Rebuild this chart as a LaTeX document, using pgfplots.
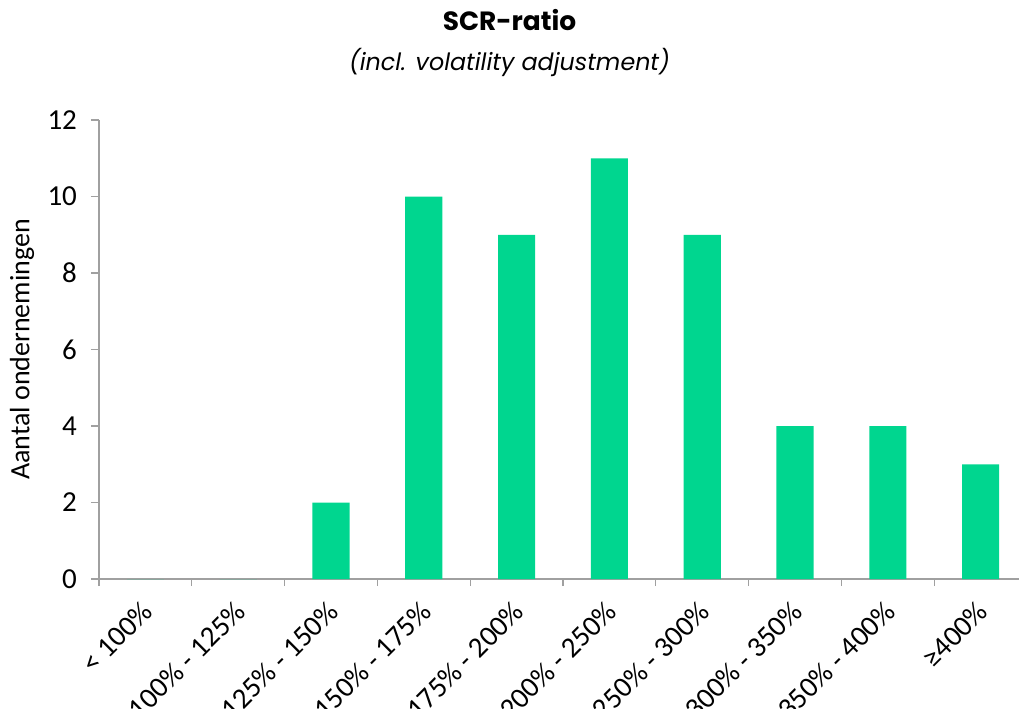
\documentclass[border=0pt]{standalone}
\usepackage{pgfplots}
\pgfplotsset{compat=1.18}
\usepackage{fontspec}
\setmainfont{Carlito}
\newfontfamily\poppins{Poppins}
\definecolor{bargreen}{RGB}{0,214,143}
\definecolor{axgray}{RGB}{160,160,160}
\begin{document}
\begin{tikzpicture}
\begin{axis}[
  at={(49.5pt,64.5pt)}, anchor=south west,
  scale only axis, width=464pt, height=229.5pt,
  xmin=-0.5, xmax=9.5, ymin=0, ymax=12,
  ytick={0,2,...,12},
  xtick={0,...,9},
  xticklabels={{< 100\%},{100\% - 125\%},{125\% - 150\%},{150\% - 175\%},{175\% - 200\%},{200\% - 250\%},{250\% - 300\%},{300\% - 350\%},{350\% - 400\%},{≥400\%}},
  minor xtick={-0.5,0.5,...,9.5},
  axis x line*=bottom, axis y line*=left,
  axis line style={axgray, line width=0.6pt, -},
  x axis line style={-}, y axis line style={-},
  major tick length=4pt,
  x tick style={draw=none},
  minor x tick style={draw=axgray, line width=0.6pt},
  minor tick length=3.5pt,
  y tick style={axgray, line width=0.6pt},
  tick align=outside,
  /pgf/number format/assume math mode=true,
  ticklabel style={font=\fontsize{14.5}{16}\selectfont, text=black},
  yticklabel style={xshift=-3.5pt},
  xticklabel style={xshift=-2.5pt, yshift=-4.5pt, rotate=45, anchor=north east, inner sep=1pt},
  ylabel={Aantal ondernemingen},
  ylabel style={at={(axis description cs:-0.083,0.5)}, anchor=center, font=\fontsize{14}{16}\selectfont},
  ybar, bar width=0.4,
  clip=false,
]
\addplot[fill=bargreen, draw=none] coordinates {
(0,0) (1,0) (2,2) (3,10) (4,9) (5,11) (6,9) (7,4) (8,4) (9,3)};
\end{axis}
\node[font=\poppins\bfseries\fontsize{13.2}{15}\selectfont] at (254.75pt,344pt) {SCR-ratio};
\node[font=\poppins\itshape\fontsize{11.9}{13}\selectfont] at (254.75pt,323pt) {(incl. volatility adjustment)};
\pgfresetboundingbox
\path[use as bounding box] (0,0) rectangle (509.5pt,354pt);
\end{tikzpicture}
\end{document}
